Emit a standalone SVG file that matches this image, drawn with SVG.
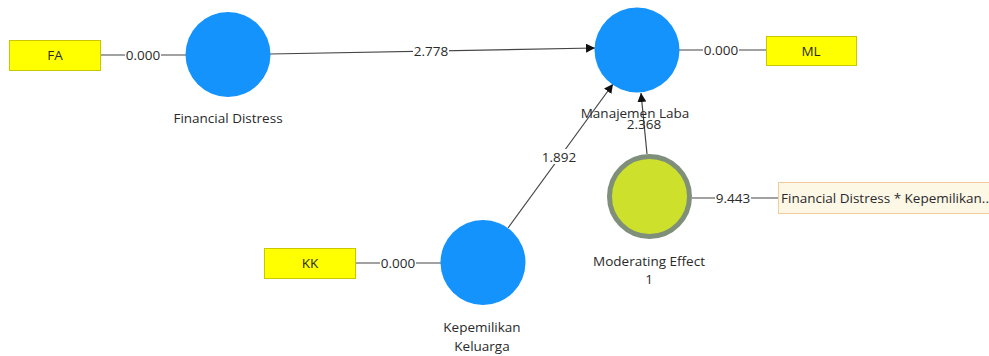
<svg xmlns="http://www.w3.org/2000/svg" width="989" height="356" viewBox="0 0 989 356">
<defs>
<style>
text{font-family:"Open Sans","Noto Sans","Liberation Sans",sans-serif;font-size:13.5px;fill:#2a2a2a}
.lbl{text-anchor:middle}
.ind{fill:#ffff00;stroke:#c8c800;stroke-width:1}
.lv{fill:#1493fd}
.ln{stroke:#444;stroke-width:1.2;fill:none}
.bg{fill:#fff}
</style>
<marker id="ah" viewBox="0 0 10 10" refX="10" refY="5" markerWidth="9" markerHeight="9" markerUnits="userSpaceOnUse" orient="auto">
<path d="M0,0 L10,5 L0,10 z" fill="#111"/>
</marker>
</defs>
<rect width="989" height="356" fill="#fff"/>
<g id="connectors">
<line class="ln" x1="100" y1="55" x2="186" y2="55"/>
<rect class="bg" x="125" y="47" width="36" height="15"/>
<text class="lbl" x="143" y="60">0.000</text>
<line class="ln" x1="355" y1="263" x2="441" y2="263"/>
<rect class="bg" x="380" y="255" width="36" height="15"/>
<text class="lbl" x="398" y="268">0.000</text>
<line class="ln" x1="679" y1="50" x2="766" y2="50"/>
<rect class="bg" x="703" y="42" width="36" height="15"/>
<text class="lbl" x="721" y="55">0.000</text>
<line class="ln" x1="692" y1="198" x2="778" y2="198"/>
<rect class="bg" x="715" y="190" width="36" height="15"/>
<text class="lbl" x="733" y="203">9.443</text>
<line class="ln" x1="270" y1="54" x2="595" y2="48" marker-end="url(#ah)"/>
<rect class="bg" x="413" y="44" width="36" height="15"/>
<text class="lbl" x="431" y="56">2.778</text>
<line class="ln" x1="508" y1="228" x2="613" y2="84" marker-end="url(#ah)"/>
<rect class="bg" x="541" y="149" width="36" height="15"/>
<text class="lbl" x="559" y="162">1.892</text>
<line class="ln" x1="647" y1="154" x2="641" y2="93" marker-end="url(#ah)"/>
<text class="lbl" x="644" y="129">2.368</text>
</g>
<g id="FA"><rect class="ind" x="9.5" y="40.5" width="91" height="30"/><text class="lbl" x="55" y="60">FA</text></g>
<g id="KK"><rect class="ind" x="264.5" y="248.5" width="91" height="30"/><text class="lbl" x="310" y="268">KK</text></g>
<g id="ML"><rect class="ind" x="766.5" y="36.5" width="90" height="29"/><text class="lbl" x="811" y="56">ML</text></g>
<g id="FDxKK"><rect x="778.5" y="182.5" width="220" height="31" fill="#fdf7e6" stroke="#f2cc9c" stroke-width="1"/><text x="781" y="203">Financial Distress * Kepemilikan...</text></g>
<g id="FinancialDistress"><circle class="lv" cx="228" cy="54.5" r="42.5"/><text class="lbl" x="228" y="123">Financial Distress</text></g>
<g id="ManajemenLaba"><circle class="lv" cx="637" cy="50" r="42.5"/><text class="lbl" x="635" y="118">Manajemen Laba</text></g>
<g id="KepemilikanKeluarga"><circle class="lv" cx="483" cy="262.5" r="42.5"/><text class="lbl" x="482" y="332">Kepemilikan</text><text class="lbl" x="482" y="351">Keluarga</text></g>
<g id="ModeratingEffect"><circle cx="649.5" cy="196.5" r="40" fill="#cde12c" stroke="#7f8f7a" stroke-width="5"/><text class="lbl" x="649" y="266">Moderating Effect</text><text class="lbl" x="649" y="284">1</text></g>
</svg>
